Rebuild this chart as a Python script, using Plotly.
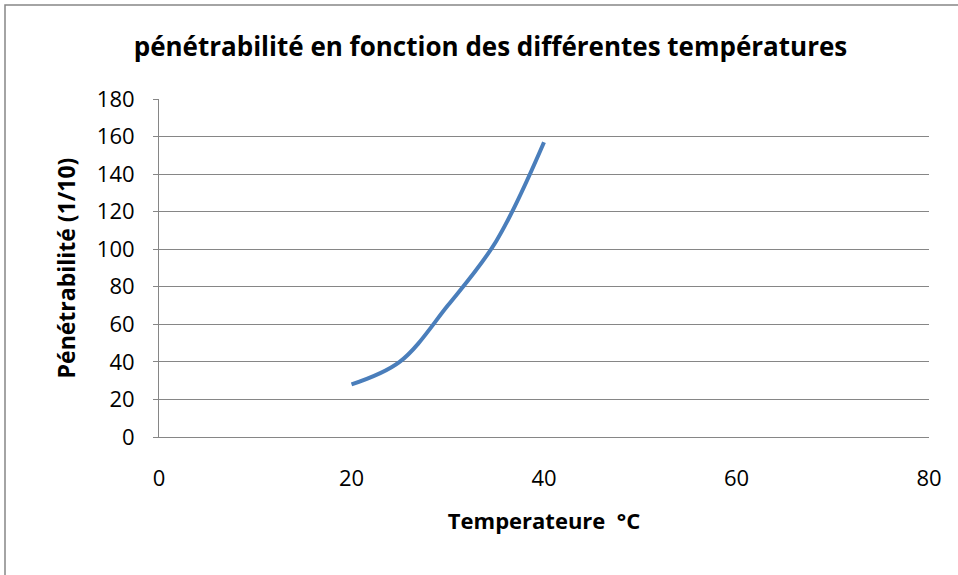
import plotly.graph_objects as go

temperature = [20, 25, 30, 35, 40]
penetrability = [28, 40, 70, 104, 157]

x_ticks = [0, 20, 40, 60, 80]
y_ticks = [0, 20, 40, 60, 80, 100, 120, 140, 160, 180]

fig = go.Figure()
fig.add_trace(go.Scatter(
    x=temperature, y=penetrability, mode="lines",
    line=dict(color="#4A7EBB", width=4, shape="spline", smoothing=1.0),
    showlegend=False, hoverinfo="x+y",
))

font_family = "'Open Sans', Lato, sans-serif"
fig.update_layout(
    width=958, height=575,
    margin=dict(l=159, r=29, t=99, b=138),
    paper_bgcolor="white", plot_bgcolor="white",
    font=dict(family=font_family, color="#000000", size=21),
    title=dict(text="<b>pénétrabilité en fonction des différentes températures</b>",
               x=0.512, xanchor="center", y=0.918, yanchor="middle",
               font=dict(size=26, family=font_family, color="#000000")),
    xaxis=dict(range=[0, 80], tickvals=x_ticks, showgrid=False, zeroline=False,
               showline=True, linecolor="#868686", linewidth=1,
               ticks="", ticklabelstandoff=22,
               tickfont=dict(size=22, color="#000000"),
               title=dict(text="<b>Temperateure  °C</b>", standoff=22,
                          font=dict(size=22, color="#000000"))),
    yaxis=dict(range=[0, 180], tickvals=y_ticks, showgrid=True, gridcolor="#868686",
               gridwidth=1, zeroline=False, showline=True, linecolor="#868686",
               linewidth=1, ticks="outside", ticklen=5, tickcolor="#868686",
               ticklabelstandoff=14,
               tickfont=dict(size=22, color="#000000"),
               title=dict(text="<b>Pénétrabilité (1/10)</b>", standoff=14,
                          font=dict(size=23, color="#000000"))),
)

# outer chart border (Excel-style chart area)
fig.add_shape(type="rect", xref="paper", yref="paper",
              x0=-154/770, y0=-150/338, x1=1.05, y1=1 + 94/338,
              line=dict(color="#868686", width=1.5), fillcolor="rgba(0,0,0,0)",
              layer="below")

fig.write_html("out.html")
